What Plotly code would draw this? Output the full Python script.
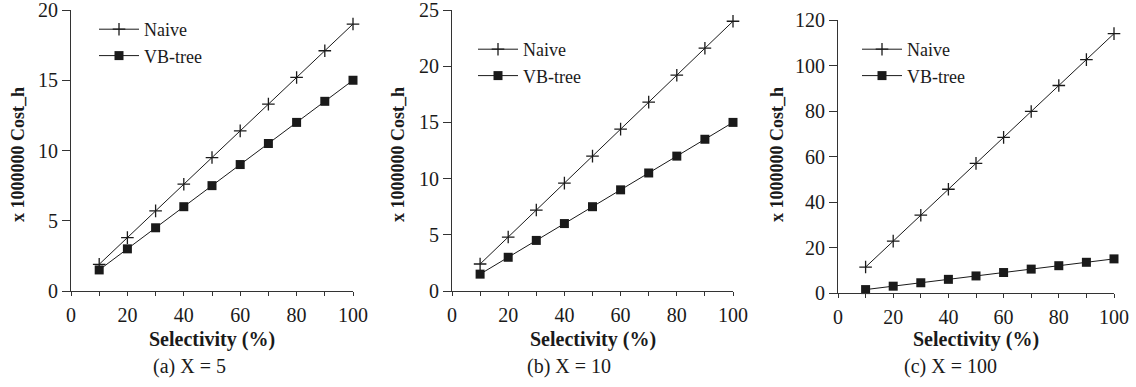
import plotly.graph_objects as go

selectivity = [10, 20, 30, 40, 50, 60, 70, 80, 90, 100]

naive_x5 = [1.9, 3.8, 5.7, 7.6, 9.5, 11.4, 13.3, 15.2, 17.1, 19.0]
vbtree_x5 = [1.5, 3.0, 4.5, 6.0, 7.5, 9.0, 10.5, 12.0, 13.5, 15.0]

naive_x10 = [2.4, 4.8, 7.2, 9.6, 12.0, 14.4, 16.8, 19.2, 21.6, 24.0]
vbtree_x10 = [1.5, 3.0, 4.5, 6.0, 7.5, 9.0, 10.5, 12.0, 13.5, 15.0]

naive_x100 = [11.4, 22.8, 34.2, 45.6, 57.0, 68.4, 79.8, 91.2, 102.6, 114.0]
vbtree_x100 = [1.5, 3.0, 4.5, 6.0, 7.5, 9.0, 10.5, 12.0, 13.5, 15.0]

captions = ["(a) X = 5", "(b) X = 10", "(c) X = 100"]
y_ranges = [20, 25, 120]
y_dticks = [5, 5, 20]
x_title = "Selectivity (%)"
y_title = "x 1000000 Cost_h"

W, H = 1136, 387
FONT = "Liberation Serif"
INK = "#1a1a1a"
AX = "#333333"

# pixel geometry of each panel: (x_left, x_right, y_top, y_bottom)
panels = [(71, 353, 10, 291), (452, 733, 10, 291), (838, 1114, 20, 293)]
ytitle_x = [18, 398, 777]
caption_x = [189, 569, 950]
legend_pos = [(94, 11), (473, 31), (857, 31)]

data = [(naive_x5, vbtree_x5), (naive_x10, vbtree_x10), (naive_x100, vbtree_x100)]

fig = go.Figure()
annotations = []
for i, ((naive, vb), (xl, xr, yt, yb)) in enumerate(zip(data, panels)):
    sfx = "" if i == 0 else str(i + 1)
    leg = "legend" if i == 0 else f"legend{i + 1}"
    fig.add_trace(go.Scatter(
        x=selectivity, y=naive, name="Naive", mode="lines+markers",
        line=dict(color=INK, width=1),
        marker=dict(symbol="cross-thin", size=9, line=dict(color=INK, width=1.3)),
        xaxis="x" + sfx, yaxis="y" + sfx, legend=leg, cliponaxis=False))
    fig.add_trace(go.Scatter(
        x=selectivity, y=vb, name="VB-tree", mode="lines+markers",
        line=dict(color=INK, width=1),
        marker=dict(symbol="square", size=9, color=INK),
        xaxis="x" + sfx, yaxis="y" + sfx, legend=leg, cliponaxis=False))

    axis_common = dict(showline=True, linecolor=AX, linewidth=1, automargin=False,
                       showgrid=False, zeroline=False, ticks="outside",
                       ticklabeloverflow="allow",
                       tickcolor=AX, tickfont=dict(family=FONT, size=20, color=INK))
    fig.update_layout(**{
        "xaxis" + sfx: dict(domain=[xl / W, xr / W], range=[0, 100], dtick=20, tick0=0,
                            ticklen=4, anchor="y" + sfx, ticklabelstandoff=2,
                            minor=dict(dtick=10, ticks="outside", ticklen=4, tickcolor=AX),
                            **axis_common),
        "yaxis" + sfx: dict(domain=[1 - yb / H, 1 - yt / H], range=[0, y_ranges[i]],
                            dtick=y_dticks[i], tick0=0, ticklen=8, anchor="x" + sfx,
                            ticklabelstandoff=0,
                            **axis_common),
        leg: dict(x=legend_pos[i][0] / W, y=1 - legend_pos[i][1] / H, xanchor="left", yanchor="top",
                  font=dict(family=FONT, size=18, color=INK), bgcolor="rgba(0,0,0,0)",
                  itemwidth=40, tracegroupgap=0),
    })
    annotations.append(dict(text=x_title, x=(xl + xr) / 2 / W, y=1 - 339 / H, xref="paper", yref="paper",
                            xanchor="center", yanchor="middle", showarrow=False,
                            font=dict(family=FONT, size=20, color=INK, weight="bold")))
    annotations.append(dict(text=y_title, x=ytitle_x[i] / W, y=1 - 155 / H, xref="paper", yref="paper",
                            xanchor="center", yanchor="middle", textangle=-90, showarrow=False,
                            font=dict(family=FONT, size=18, color=INK, weight="bold")))
    annotations.append(dict(text=captions[i], x=caption_x[i] / W, y=1 - 366 / H, xref="paper", yref="paper",
                            xanchor="center", yanchor="middle", showarrow=False,
                            font=dict(family=FONT, size=20, color=INK)))

fig.update_layout(width=W, height=H, margin=dict(l=0, r=0, t=0, b=0, pad=0, autoexpand=False),
                  paper_bgcolor="white", plot_bgcolor="white",
                  annotations=annotations, showlegend=True)
fig.write_html("out.html")
